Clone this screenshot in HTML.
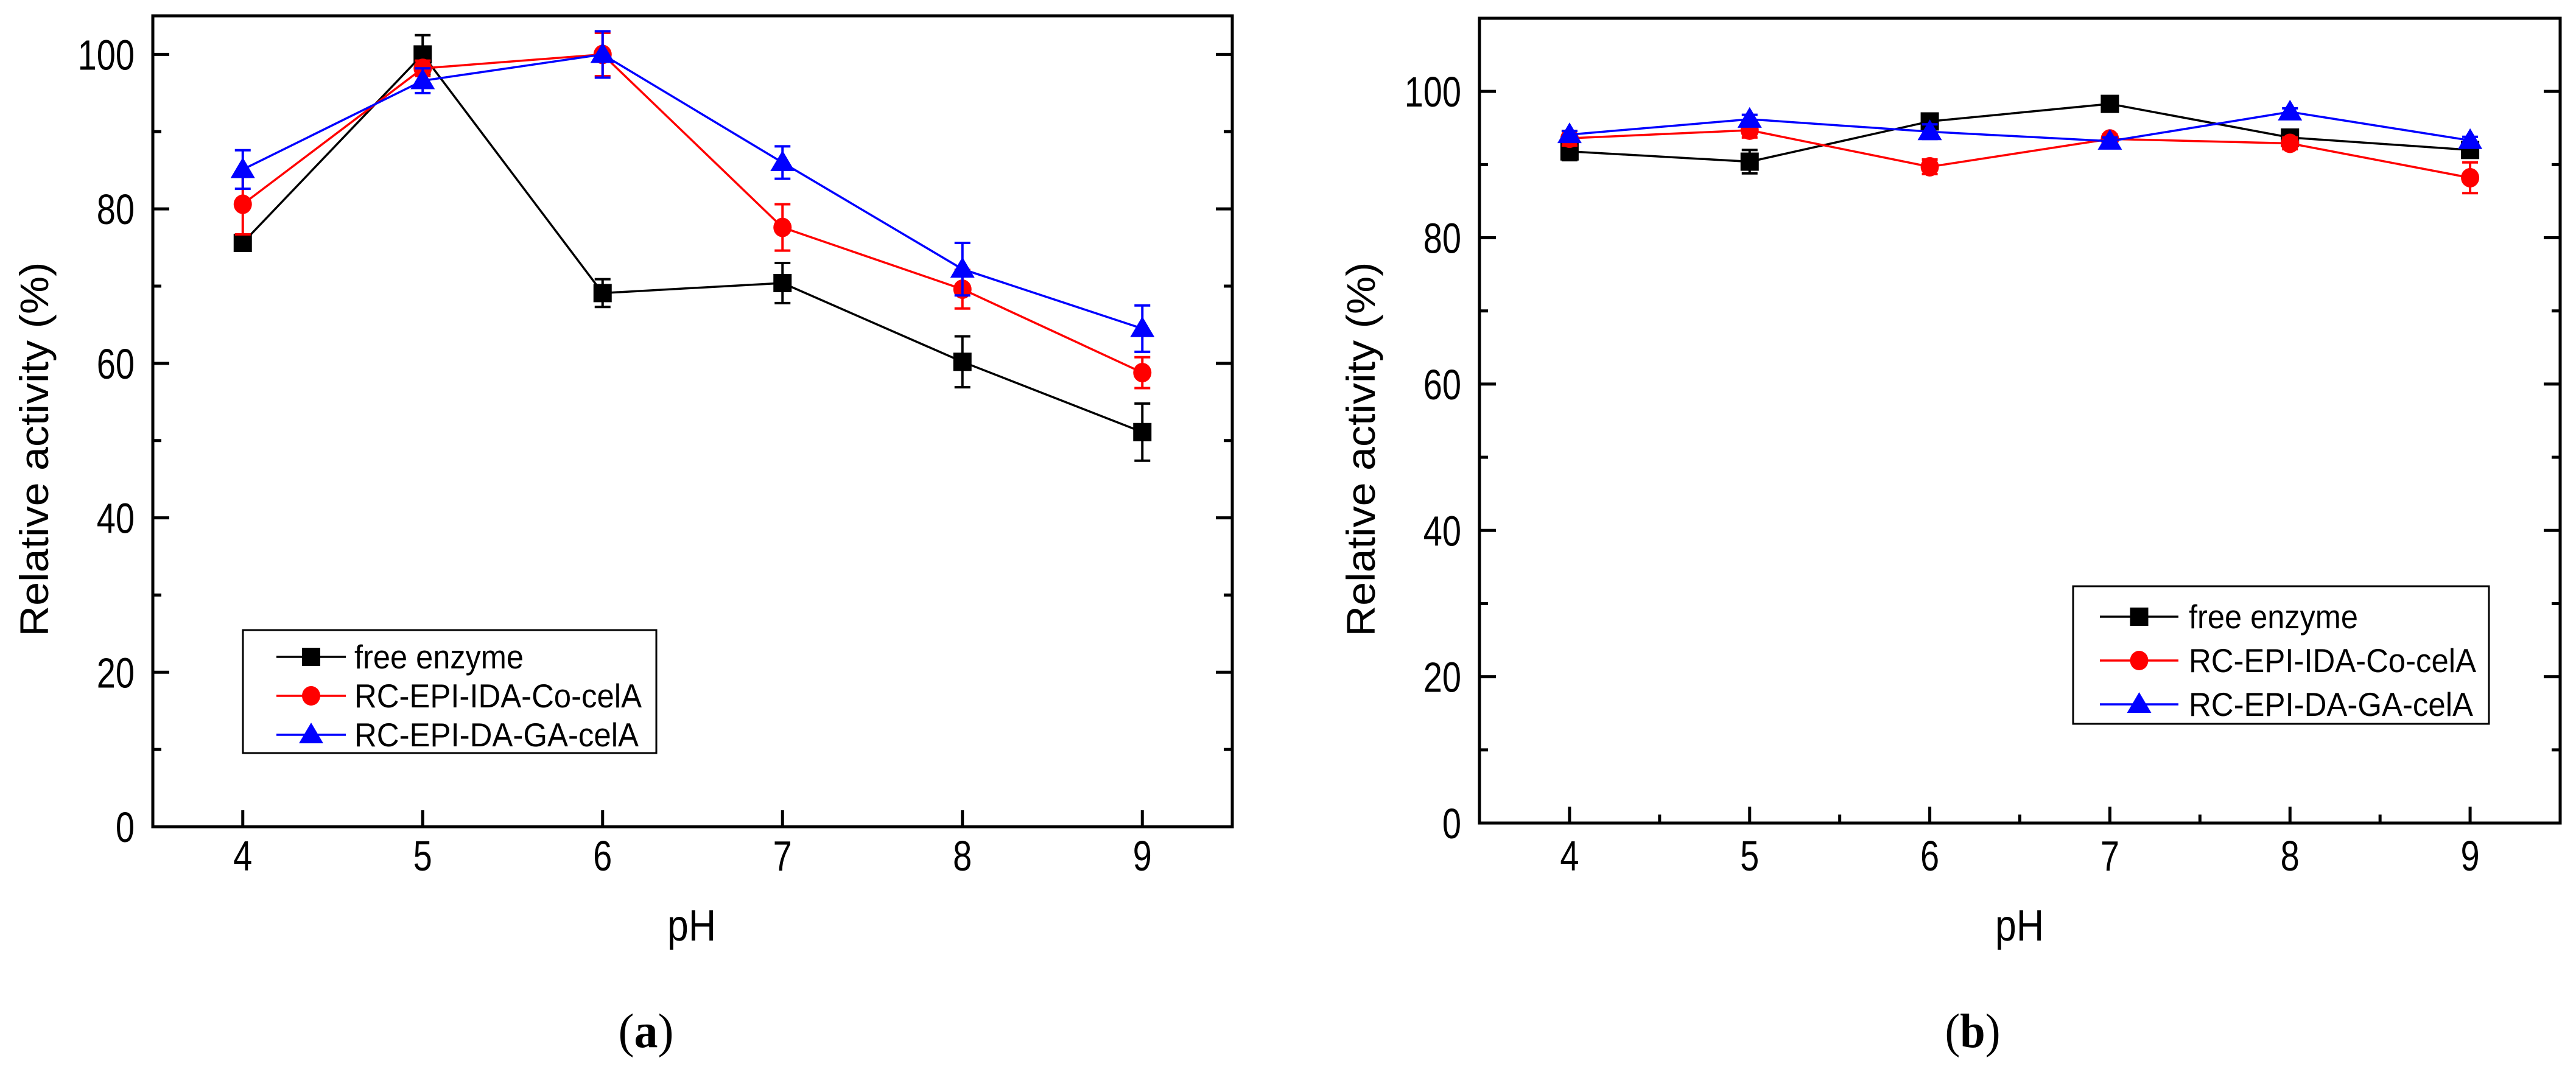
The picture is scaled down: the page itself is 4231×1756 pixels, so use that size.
<!DOCTYPE html>
<html><head><meta charset="utf-8"><style>
html,body{margin:0;padding:0;background:#fff;}
svg{display:block;font-family:"Liberation Sans",Arial,sans-serif;}
</style></head><body>
<svg id="fig" width="4231" height="1756" viewBox="0 0 4231 1756" xmlns="http://www.w3.org/2000/svg"></svg>
<script>
const phCategories = [4,5,6,7,8,9];
const yTicksA = [0,20,40,60,80,100];
const yTicksB = [0,20,40,60,80,100];
const seriesNames = ["free enzyme","RC-EPI-IDA-Co-celA","RC-EPI-DA-GA-celA"];
// panel a
const freeA = [75.6,100,69.1,70.4,60.2,51.1];
const freeAErr = [1.0,2.5,1.8,2.6,3.3,3.7];
const idaA = [80.6,98.2,100,77.6,69.6,58.8];
const idaAErr = [3.9,1.0,2.8,3.0,2.5,2.0];
const gaA = [85.1,96.6,100,86.0,72.2,64.5];
const gaAErr = [2.5,1.6,3.0,2.1,3.4,3.0];
// panel b
const freeB = [91.8,90.4,95.9,98.3,93.7,92.0];
const freeBErr = [1.2,1.6,0.8,0.5,0.8,0.8];
const idaB = [93.6,94.7,89.7,93.5,92.9,88.2];
const idaBErr = [1.0,1.0,1.0,0.6,0.8,2.1];
const gaB = [94.1,96.2,94.5,93.2,97.2,93.3];
const gaBErr = [0.5,0.6,1.0,0.5,0.5,0.5];

const NS="http://www.w3.org/2000/svg";
const svg=document.getElementById('fig');
function mk(tag,attrs,parent){const e=document.createElementNS(NS,tag);for(const k in attrs)e.setAttribute(k,attrs[k]);(parent||svg).appendChild(e);return e;}
function stext(parent,x,y,sy,attrs,str){
  const a=Object.assign({x:0,y:0,fill:'#000',transform:`translate(${x},${y}) scale(1,${sy})`},attrs);
  const t=mk('text',a,parent); t.textContent=str; return t;
}
const colors=["#000000","#ff0000","#0000ff"];
const shapes=["square","circle","triangle"];

function marker(g,shape,cx,cy,color){
  let m;
  if(shape==="square") m=mk('rect',{x:cx-15,y:cy-15,width:30,height:30,fill:color},g);
  else if(shape==="circle") m=mk('ellipse',{cx:cx,cy:cy,rx:15,ry:16,fill:color},g);
  else m=mk('polygon',{points:`${cx},${cy-20} ${cx+20},${cy+14} ${cx-20},${cy+14}`,fill:color},g);
  return m;
}

function panel(cfg){
  const g=mk('g',{});
  
  
  const xs=v=>cfg.L+(v-3.5)/(9.5-3.5)*(cfg.R-cfg.L);
  const ys=v=>cfg.B-(v-0)/(cfg.ymax)*(cfg.B-cfg.T);
  for(let v=10;v<=cfg.ymax;v+=10){
    const major=v%20===0; const len=major?27:14; const y=ys(v);
    const t1=mk('line',{x1:cfg.L,x2:cfg.L+len,y1:y,y2:y,stroke:'#000','stroke-width':5},g);
    
    
    const t2=mk('line',{x1:cfg.R,x2:cfg.R-len,y1:y,y2:y,stroke:'#000','stroke-width':5},g);
    
    
  }
  cfg.yTicks.forEach(v=>{
    const t=stext(g,cfg.L-30,ys(v)+25,1.25,{'font-size':56,'text-anchor':'end'},String(v));
    
    
  });
  phCategories.forEach(v=>{
    const x=xs(v);
    const t=mk('line',{x1:x,x2:x,y1:cfg.B,y2:cfg.B-27,stroke:'#000','stroke-width':5},g);
    
    
    if(cfg.minorX && v<9){
      const m=mk('line',{x1:xs(v+0.5),x2:xs(v+0.5),y1:cfg.B,y2:cfg.B-14,stroke:'#000','stroke-width':5},g);
      
      
    }
    const l=stext(g,x,1430,1.25,{'font-size':56,'text-anchor':'middle'},String(v));
    
    
  });
  const frame=mk('rect',{x:cfg.L,y:cfg.T,width:cfg.R-cfg.L,height:cfg.B-cfg.T,fill:'none',stroke:'#000','stroke-width':5},g);
  
  
  cfg.series.forEach((s,i)=>{
    const sg=mk('g',{},g);
    
    
    const pts=s.vals.map((v,j)=>xs(phCategories[j])+','+ys(v)).join(' ');
    const pl=mk('polyline',{points:pts,fill:'none',stroke:colors[i],'stroke-width':3.5},sg);
    
    
    s.vals.forEach((v,j)=>{
      const x=xs(phCategories[j]); const e=s.err[j];
      const y1=ys(v+e), y2=ys(v-e);
      const eg=mk('path',{d:`M${x},${y1}V${y2}M${x-13},${y1}H${x+13}M${x-13},${y2}H${x+13}`,stroke:colors[i],'stroke-width':4,fill:'none'},sg);
      
      
      const m=marker(sg,shapes[i],x,ys(v),colors[i]);
      
      
    });
  });
  const yt=mk('text',{x:0,y:0,'font-size':66,'text-anchor':'middle',fill:'#000',textLength:615,lengthAdjust:'spacingAndGlyphs',transform:`translate(${cfg.L-172},738) rotate(-90)`},g);
  yt.textContent='Relative activity (%)';
  
  
  const xt=stext(g,cfg.phX,1545,1.3,{'font-size':56,'text-anchor':'middle',textLength:80,lengthAdjust:'spacingAndGlyphs'},'pH');
  
  
  const cap=stext(g,cfg.capX,1720,1.1,{'font-size':72,'font-family':'"Liberation Serif",serif','text-anchor':'middle',textLength:91,lengthAdjust:'spacingAndGlyphs'},'');
  cap.innerHTML='(<tspan font-weight="bold">'+cfg.cap+'</tspan>)';
  
  
  const lg=mk('g',{},g);
  
  
  const lb=mk('rect',{x:cfg.leg.x,y:cfg.leg.y,width:cfg.leg.w,height:cfg.leg.h,fill:'#fff',stroke:'#000','stroke-width':3},lg);
  
  
  const lens=[278,472,467];
  seriesNames.forEach((n,i)=>{
    const eg=mk('g',{},lg);
    
    
    const y=cfg.leg.rows[i];
    mk('line',{x1:cfg.leg.lx1,x2:cfg.leg.lx2,y1:y,y2:y,stroke:colors[i],'stroke-width':3.5},eg);
    marker(eg,shapes[i],(cfg.leg.lx1+cfg.leg.lx2)/2,y,colors[i]);
    stext(eg,cfg.leg.tx,y+19,1.3,{'font-size':42,textLength:lens[i],lengthAdjust:'spacingAndGlyphs'},n);
  });
}

panel({name:'panel-a',L:251,R:2024,T:26,B:1358,ymax:105,yTicks:yTicksA,minorX:false,phX:1136,capX:1061,cap:'a',
  series:[{vals:freeA,err:freeAErr},{vals:idaA,err:idaAErr},{vals:gaA,err:gaAErr}],
  leg:{x:399,y:1035,w:679,h:202,rows:[1079,1143,1207],lx1:454,lx2:568,tx:582}});
panel({name:'panel-b',L:2430,R:4205,T:30,B:1352,ymax:110,yTicks:yTicksB,minorX:true,phX:3317,capX:3240,cap:'b',
  series:[{vals:freeB,err:freeBErr},{vals:idaB,err:idaBErr},{vals:gaB,err:gaBErr}],
  leg:{x:3405,y:963,w:683,h:226,rows:[1013,1085,1157],lx1:3449,lx2:3578,tx:3595}});
</script>
</body></html>
